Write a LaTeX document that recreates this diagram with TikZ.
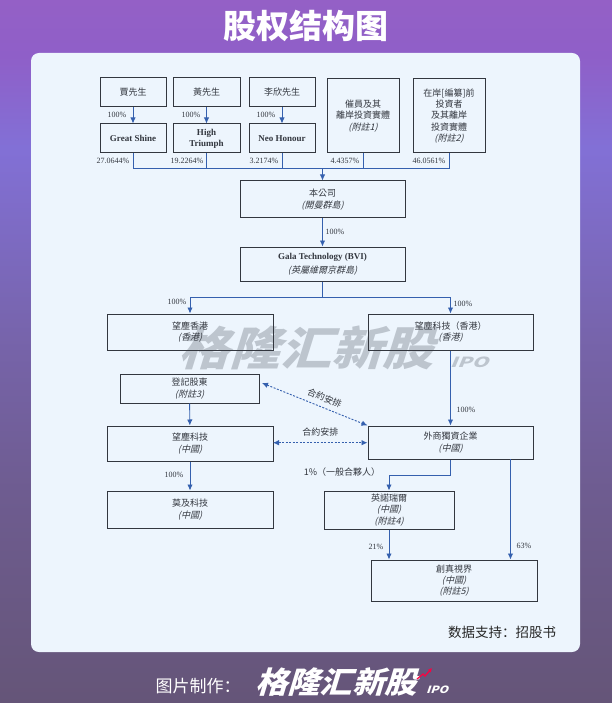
\documentclass[tikz,border=0pt]{standalone}
\usepackage{fontspec}
\setmainfont{Liberation Serif}
\newfontfamily\cjktc[AutoFakeSlant=0.25]{Noto Sans CJK TC}
\newfontfamily\cjksc{Noto Sans CJK SC}
\newfontfamily\logofont[BoldFeatures={FakeSlant=0.28}]{Noto Sans CJK SC}
\usetikzlibrary{arrows.meta,calc}
\tikzset{>={Latex[width=5.5pt,length=6pt]}}
\definecolor{inkc}{HTML}{33373F}
\definecolor{linec}{HTML}{3560AE}
\definecolor{cardc}{HTML}{EDF5FD}
\definecolor{markc}{HTML}{BDC5CE}
\definecolor{bga}{HTML}{9460C6}
\definecolor{bgf}{HTML}{8F5FC8}
\definecolor{bge}{HTML}{8270D6}
\definecolor{bgd}{HTML}{7663A8}
\definecolor{bgc}{HTML}{6E5C90}
\definecolor{bgb}{HTML}{655578}
\pgfdeclareverticalshading{bgfade}{100bp}{
  color(0bp)=(bgb); color(25bp)=(bgb); color(40bp)=(bgc); color(50bp)=(bgd); color(64.5bp)=(bge); color(71bp)=(bgf); color(75bp)=(bga); color(100bp)=(bga)}
\tikzset{
  box/.style={draw=inkc,line width=1pt,align=center,inner sep=0pt,font=\fontsize{9}{11.3}\selectfont\cjktc,text=inkc},
  pct/.style={font=\fontsize{8}{9}\selectfont,text=inkc,inner sep=0pt},
  lnk/.style={draw=linec,line width=0.9pt},
  deal/.style={lnk,dash pattern=on 2pt off 1.5pt,<->},
  dealtext/.style={font=\fontsize{9}{9}\selectfont\cjktc,text=inkc,inner sep=0pt},
  logo/.style={font=\fontsize{#1}{#1}\selectfont\logofont\bfseries,inner sep=0pt},
}
\newcommand\lat[1]{{\rmfamily\bfseries\fontsize{9}{11}\selectfont #1}}
% box from its corners
\newcommand\bx[5]{\node[box,minimum width=#3-#1,minimum height=#4-#2] (#5) at ({(#1+#3)/2},{(#2+#4)/2})}
\begin{document}
\begin{tikzpicture}[x=1pt,y=-1pt]
  \useasboundingbox (0,0) rectangle (612,703);
  \shade[shading=bgfade] (0,0) rectangle (612,703);
  \fill[cardc,rounded corners=8pt] (31,53) rectangle (580,652);

  % title and footer
  \node[font=\fontsize{33}{33}\selectfont\cjksc\bfseries,text=white,inner sep=0pt] (title) at (306,25.5) {股权结构图};
  \node[font=\fontsize{13.5}{13.5}\selectfont\cjksc,text=black!85,inner sep=0pt] (src) at (502,632.5) {数据支持：招股书};
  \node[font=\fontsize{17}{17}\selectfont\cjksc,text=white,inner sep=0pt] (made) at (198,686) {图片制作：};
  \node[logo=30,text=white,xscale=1.08] (brand) at (336,682) {格隆汇新股};
  \node[logo=10,text=white,xscale=1.2] (brandipo) at (437,690) {IPO};
  \draw[-{Latex[width=4pt,length=4pt]},draw=red!75!magenta,line width=1.2pt] (417,679) -- (423,674) -- (425,676) -- (432,668);

  % watermark
  \node[logo=46,text=markc,xscale=1.11] (mark) at (306,348) {格隆汇新股};
  \node[logo=14,text=markc,xscale=1.5] (markipo) at (469,362) {IPO};

  % holders
  \bx{100}{78}{166}{107}{jia} {賈先生};
  \bx{173}{78}{240}{107}{huang} {黃先生};
  \bx{249}{78}{315}{107}{li} {李欣先生};
  \bx{100}{124}{166}{153}{gs} {\lat{Great Shine}};
  \bx{173}{124}{240}{153}{ht} {\lat{High}\\\lat{Triumph}};
  \bx{249}{124}{315}{153}{nh} {\lat{Neo Honour}};
  \bx{327}{79}{399}{153}{cui} {催員及其\\離岸投資實體\\\itshape (附註1)};
  \bx{413}{79}{485}{153}{pre} {在岸[編纂]前\\投資者\\及其離岸\\投資實體\\\itshape (附註2)};

  \bx{240}{181}{405}{218}{co} {本公司\\\itshape (開曼群島)};
  \bx{240}{247}{405}{281}{gala} {\lat{Gala Technology (BVI)}\\[2.5pt]\itshape (英屬維爾京群島)};
  \bx{107}{314}{273}{350}{hk} {望塵香港\\\itshape (香港)};
  \bx{368}{314}{533}{350}{hkt} {望塵科技（香港）\\\itshape (香港)};
  \bx{120}{374}{259}{403}{reg} {登記股東\\\itshape (附註3)};
  \bx{107}{426}{273}{461}{cn} {望塵科技\\\itshape (中國)};
  \bx{368}{426}{533}{459}{wfoe} {外商獨資企業\\\itshape (中國)};
  \bx{107}{491}{273}{528}{moji} {莫及科技\\\itshape (中國)};
  \bx{324}{491}{454}{529}{yn} {英諾瑞爾\\\itshape (中國)\\\itshape (附註4)};
  \bx{371}{560}{537}{601}{cz} {創真視界\\\itshape (中國)\\\itshape (附註5)};

  % connectors
  \foreach \a/\b in {jia/gs,huang/ht,li/nh,reg/cn,cn/moji,co/gala,hkt/wfoe}
    \draw[lnk,->] (\a) -- (\b);
  \coordinate (bus) at (322.5,168.5);
  \foreach \a in {gs,ht,nh,cui,pre}
    \draw[lnk] (\a.south) -- (\a.south |- bus) -- (bus);
  \draw[lnk,->] (bus) -- (co.north);
  \coordinate (fork) at (322.5,297.5);
  \draw[lnk] (gala.south) -- (fork);
  \draw[lnk,->] (fork) -| (hk.north);
  \draw[lnk,->] (fork) -| (hkt.north);
  \coordinate (turn) at (450.5,475.5);
  \draw[lnk,->] (wfoe.south) -- (turn) -| (yn.north);
  \draw[lnk,->] (yn.south) -- (yn.south |- cz.north);
  \coordinate (wfoeout) at (510.5,459);
  \draw[lnk,->] (wfoeout) -- (wfoeout |- cz.north);
  \coordinate (regtip) at (262,383);
  \draw[deal] (regtip) -- node[pos=.56,sloped,above=5pt,dealtext] {合約安排} (wfoe.north west);
  \coordinate (cntip) at (273,442.7);
  \draw[deal] (cntip) -- node[above=6pt,dealtext] {合約安排} (cntip -| wfoe.west);

  % percentages
  \node[pct] (p1) at (117,115) {100\%};
  \node[pct] (p2) at (191,115) {100\%};
  \node[pct] (p3) at (266,115) {100\%};
  \node[pct] (s1) at (113,161) {27.0644\%};
  \node[pct] (s2) at (187,161) {19.2264\%};
  \node[pct] (s3) at (264,161) {3.2174\%};
  \node[pct] (s4) at (345,161) {4.4357\%};
  \node[pct] (s5) at (429,161) {46.0561\%};
  \node[pct] (p4) at (335,232) {100\%};
  \node[pct] (p5) at (177,302) {100\%};
  \node[pct] (p6) at (463,304) {100\%};
  \node[pct] (p7) at (466,410) {100\%};
  \node[pct] (p8) at (174,475) {100\%};
  \node[pct] (p9) at (376,547) {21\%};
  \node[pct] (p10) at (524,546) {63\%};
  \node[pct,font=\fontsize{9}{9}\selectfont\cjktc] (gp) at (342,472.5) {1\%（一般合夥人）};
\end{tikzpicture}
\end{document}
